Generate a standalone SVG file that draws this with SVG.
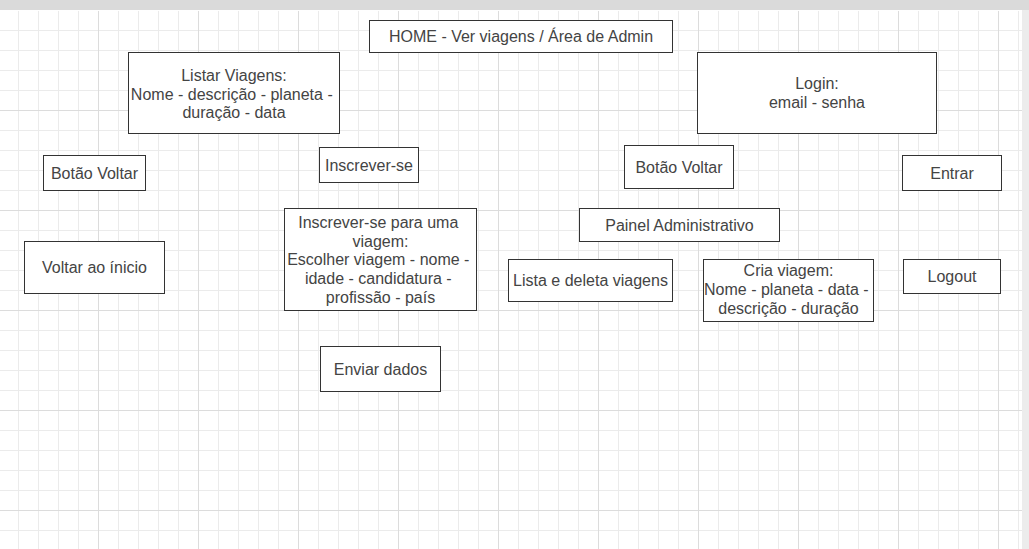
<svg xmlns="http://www.w3.org/2000/svg" width="1029" height="549" viewBox="0 0 1029 549">
<style>
.box{fill:#ffffff;stroke:#333333;stroke-width:1}
.t{font-family:"Liberation Sans",Arial,Helvetica,sans-serif;font-size:16px;fill:#444444;text-anchor:middle}
</style>
<defs>
<pattern id="minor" x="18" y="10" width="20" height="20" patternUnits="userSpaceOnUse">
<path d="M0.5 0V20M0 0.5H20" stroke="#ebebeb" stroke-width="1" fill="none"/>
</pattern>
<pattern id="major" x="98" y="10" width="100" height="100" patternUnits="userSpaceOnUse">
<path d="M0.5 0V100M0 0.5H100" stroke="#dcdcdc" stroke-width="1" fill="none"/>
</pattern>
</defs>
<g id="background">
<rect x="0" y="0" width="1029" height="549" fill="#ffffff"/>
<rect x="0" y="11" width="1022" height="538" fill="url(#minor)"/>
<rect x="0" y="11" width="1022" height="538" fill="url(#major)"/>
<rect x="1022" y="0" width="7" height="549" fill="#ececec"/>
<rect x="0" y="0" width="1029" height="10" fill="#dadada"/>
</g>
<g id="connectors"/>
<g id="home">
<rect class="box" x="369.5" y="20.5" width="303" height="32"/>
<text class="t" x="521" y="42.3">HOME - Ver viagens / Área de Admin</text>
</g>
<g id="listar-viagens">
<rect class="box" x="128.5" y="52.5" width="211" height="81"/>
<text class="t" x="234" y="81">Listar Viagens:</text>
<text class="t" x="231.8" y="99.7">Nome - descrição - planeta -</text>
<text class="t" x="234" y="118.4">duração - data</text>
</g>
<g id="login">
<rect class="box" x="697.5" y="52.5" width="239" height="81"/>
<text class="t" x="817" y="89.3">Login:</text>
<text class="t" x="817" y="108.2">email - senha</text>
</g>
<g id="botao-voltar-1">
<rect class="box" x="43.5" y="155.5" width="102" height="35"/>
<text class="t" x="94.5" y="179">Botão Voltar</text>
</g>
<g id="inscrever-se">
<rect class="box" x="319.5" y="147.5" width="99" height="35"/>
<text class="t" x="369" y="171">Inscrever-se</text>
</g>
<g id="botao-voltar-2">
<rect class="box" x="624.5" y="145.5" width="109" height="43"/>
<text class="t" x="679" y="173">Botão Voltar</text>
</g>
<g id="entrar">
<rect class="box" x="902.5" y="155.5" width="99" height="35"/>
<text class="t" x="952" y="179">Entrar</text>
</g>
<g id="inscrever-viagem">
<rect class="box" x="284.5" y="208.5" width="192" height="102"/>
<text class="t" x="378.3" y="227.7">Inscrever-se para uma</text>
<text class="t" x="380.5" y="246.5">viagem:</text>
<text class="t" x="378.3" y="265.3">Escolher viagem - nome -</text>
<text class="t" x="378.3" y="284.1">idade - candidatura -</text>
<text class="t" x="380.5" y="302.9">profissão - país</text>
</g>
<g id="painel-administrativo">
<rect class="box" x="579.5" y="208.5" width="200" height="33"/>
<text class="t" x="679.5" y="231.2">Painel Administrativo</text>
</g>
<g id="voltar-inicio">
<rect class="box" x="24.5" y="241.5" width="140" height="52"/>
<text class="t" x="94.5" y="273.3">Voltar ao ínicio</text>
</g>
<g id="lista-deleta">
<rect class="box" x="508.5" y="259.5" width="164" height="42"/>
<text class="t" x="590.5" y="286.3">Lista e deleta viagens</text>
</g>
<g id="cria-viagem">
<rect class="box" x="703.5" y="259.5" width="170" height="62"/>
<text class="t" x="788.5" y="276.3">Cria viagem:</text>
<text class="t" x="786.3" y="295">Nome - planeta - data -</text>
<text class="t" x="788.5" y="313.8">descrição - duração</text>
</g>
<g id="logout">
<rect class="box" x="903.5" y="259.5" width="97" height="34"/>
<text class="t" x="952" y="282.3">Logout</text>
</g>
<g id="enviar-dados">
<rect class="box" x="320.5" y="346.5" width="120" height="45"/>
<text class="t" x="380.5" y="375.3">Enviar dados</text>
</g>
</svg>
